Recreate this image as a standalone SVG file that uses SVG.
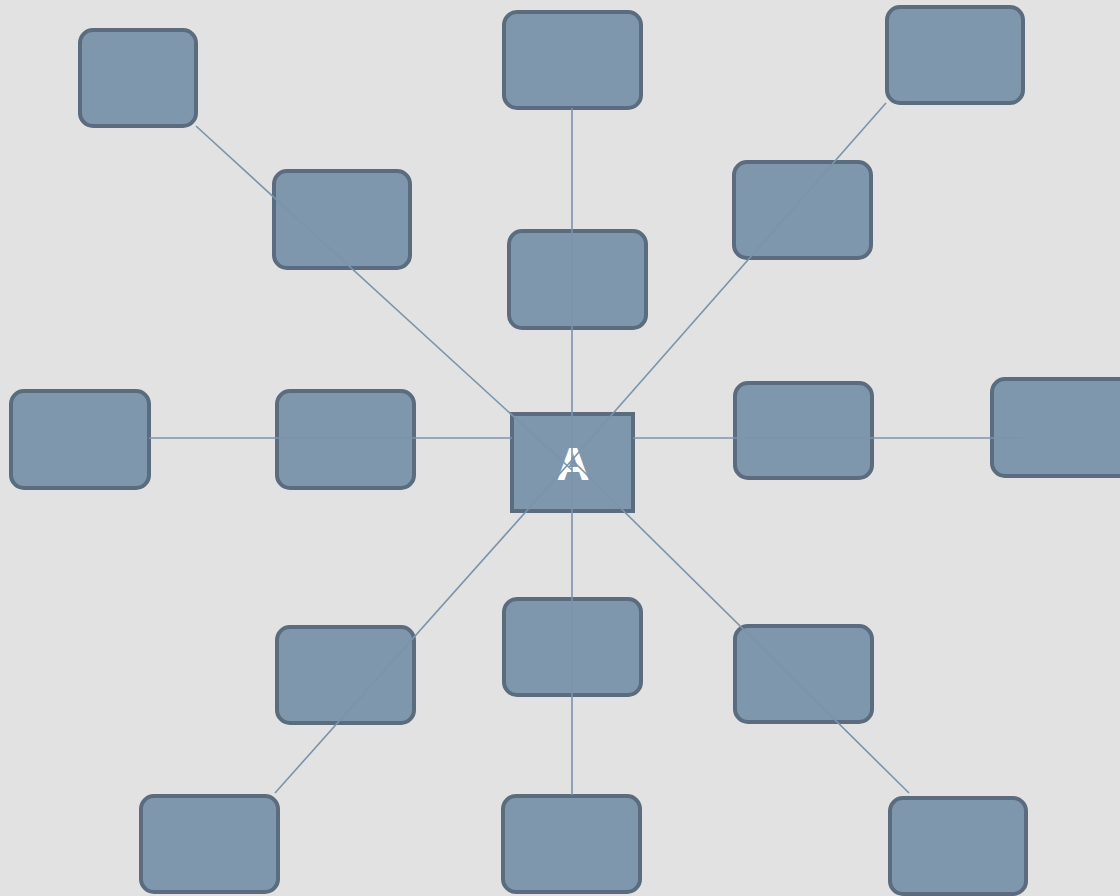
<svg xmlns="http://www.w3.org/2000/svg" width="1120" height="896" viewBox="0 0 1120 896">
<style>
.n{fill:#7f97ad;stroke:#5a6c7e;stroke-width:4}
.c line{stroke:#7a94ab;stroke-width:1.6}
.t{font-family:"Liberation Sans",Arial,sans-serif;font-weight:bold;font-size:46px;fill:#ffffff}
</style>
<rect width="1120" height="896" fill="#e2e2e2"/>
<g id="n1"><rect class="n" x="80" y="30" width="116" height="96" rx="13"/></g>
<g id="n2"><rect class="n" x="274" y="171" width="136" height="97" rx="13"/></g>
<g id="n3"><rect class="n" x="504" y="12" width="137" height="96" rx="13"/></g>
<g id="n4"><rect class="n" x="509" y="231" width="137" height="97" rx="13"/></g>
<g id="n5"><rect class="n" x="887" y="7" width="136" height="96" rx="13"/></g>
<g id="n6"><rect class="n" x="734" y="162" width="137" height="96" rx="13"/></g>
<g id="n7"><rect class="n" x="11" y="391" width="138" height="97" rx="13"/></g>
<g id="n8"><rect class="n" x="277" y="391" width="137" height="97" rx="13"/></g>
<g id="n9"><rect class="n" x="735" y="383" width="137" height="95" rx="13"/></g>
<g id="n10"><rect class="n" x="992" y="379" width="140" height="97" rx="13"/></g>
<g id="n11"><rect class="n" x="277" y="627" width="137" height="96" rx="13"/></g>
<g id="n12"><rect class="n" x="504" y="599" width="137" height="96" rx="13"/></g>
<g id="n13"><rect class="n" x="735" y="626" width="137" height="96" rx="13"/></g>
<g id="n14"><rect class="n" x="141" y="796" width="137" height="96" rx="13"/></g>
<g id="n15"><rect class="n" x="503" y="796" width="137" height="96" rx="13"/></g>
<g id="n16"><rect class="n" x="890" y="798" width="136" height="96" rx="13"/></g>
<g id="center"><rect class="n" x="512" y="414" width="121" height="97"/><text class="t" x="573" y="480" text-anchor="middle">A</text></g>
<g class="c" id="connectors">
<line x1="572" y1="108" x2="572" y2="795"/>
<line x1="149" y1="438" x2="512" y2="438"/>
<line x1="633" y1="438" x2="1022" y2="438"/>
<line x1="196" y1="126" x2="572" y2="470"/>
<line x1="886" y1="103" x2="572" y2="460"/>
<line x1="275" y1="793" x2="572" y2="460"/>
<line x1="909" y1="793" x2="572" y2="460"/>
</g>
</svg>
